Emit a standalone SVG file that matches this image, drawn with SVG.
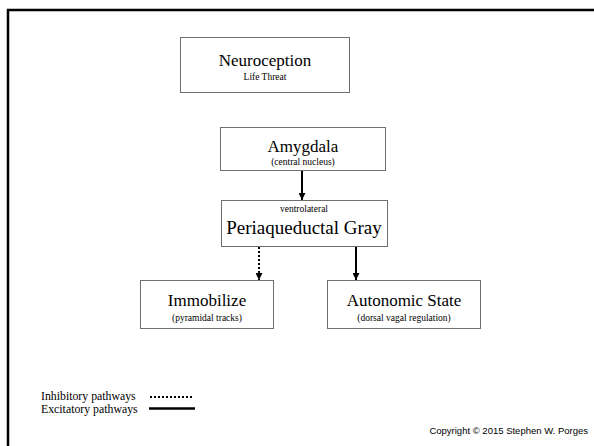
<svg xmlns="http://www.w3.org/2000/svg" width="594" height="446" viewBox="0 0 594 446">
  <style>
    .box { fill: #ffffff; stroke: #6f6f6f; stroke-width: 1; }
    .t { font-family: "Liberation Serif", "Times New Roman", serif; fill: #000; text-anchor: middle; }
    .big { font-size: 17px; }
    .small { font-size: 9.5px; }
    .leg { font-family: "Liberation Serif", "Times New Roman", serif; font-size: 11.8px; fill: #000; }
    .solid { stroke: #000; stroke-width: 2; fill: none; }
    .dotted { stroke: #000; stroke-width: 2; fill: none; stroke-dasharray: 2 2; }
  </style>
  <defs>
    <marker id="arrow" viewBox="0 0 10 10" refX="10" refY="5" markerWidth="3.5" markerHeight="3.5" orient="auto" markerUnits="strokeWidth">
      <path d="M0,0 L10,5 L0,10 z" fill="#000"/>
    </marker>
  </defs>
  <rect width="594" height="446" fill="#ffffff"/>

  <!-- slide frame -->
  <path d="M8,446 L8,10 L594,10" fill="none" stroke="#000" stroke-width="2.5"/>

  <g id="neuroception">
    <rect class="box" x="180.5" y="37.5" width="169" height="55"/>
    <text class="t big" x="265" y="66">Neuroception</text>
    <text class="t small" x="265" y="80">Life Threat</text>
  </g>

  <g id="amygdala">
    <rect class="box" x="220.5" y="127.5" width="165" height="43"/>
    <text class="t big" x="303" y="152">Amygdala</text>
    <text class="t small" x="303" y="165">(central nucleus)</text>
  </g>

  <g id="pag">
    <rect class="box" x="221.5" y="200.5" width="166" height="46"/>
    <text class="t small" x="304" y="212">ventrolateral</text>
    <text class="t" x="304" y="234" font-size="19">Periaqueductal Gray</text>
  </g>

  <g id="immobilize">
    <rect class="box" x="140.5" y="280.5" width="133" height="48"/>
    <text class="t big" x="207" y="306">Immobilize</text>
    <text class="t small" x="207" y="321">(pyramidal tracks)</text>
  </g>

  <g id="autonomic">
    <rect class="box" x="327.5" y="280.5" width="153" height="48"/>
    <text class="t big" x="404" y="306">Autonomic State</text>
    <text class="t small" x="404" y="321">(dorsal vagal regulation)</text>
  </g>

  <g id="connectors">
    <line class="solid" x1="302" y1="171" x2="302" y2="200" marker-end="url(#arrow)"/>
    <line class="dotted" x1="259" y1="247" x2="259" y2="280" marker-end="url(#arrow)"/>
    <line class="solid" x1="356" y1="247" x2="356" y2="280" marker-end="url(#arrow)"/>
  </g>

  <g id="legend">
    <text class="leg" x="41" y="400">Inhibitory pathways</text>
    <line class="dotted" x1="150" y1="397" x2="192" y2="397"/>
    <text class="leg" x="41" y="412.5">Excitatory pathways</text>
    <line x1="149" y1="408.5" x2="195" y2="408.5" stroke="#000" stroke-width="2.5"/>
  </g>

  <text x="588" y="434" font-family="Liberation Sans, Arial, sans-serif" font-size="9.5" text-anchor="end" fill="#000">Copyright © 2015 Stephen W. Porges</text>
</svg>
